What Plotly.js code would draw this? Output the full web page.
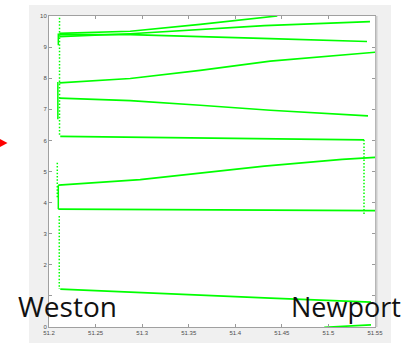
<!DOCTYPE html>
<html>
<head>
<meta charset="utf-8">
<script src="https://cdn.plot.ly/plotly-3.0.1.min.js"></script>
<style>html,body{margin:0;padding:0;background:#fff;}#chart{width:404px;height:343px;}</style>
</head>
<body>
<div id="chart"></div>
<script>
// ---- data ----
const xTicks = [51.2, 51.25, 51.3, 51.35, 51.4, 51.45, 51.5, 51.55];
const xTickText = ['51.2', '51.25', '51.3', '51.35', '51.4', '51.45', '51.5', '51.55'];
const yTicks = [0, 1, 2, 3, 4, 5, 6, 7, 8, 9, 10];
// the "1" label is hidden behind the "Weston" caption in the reference
const yTickText = ['0', '', '2', '3', '4', '5', '6', '7', '8', '9', '10'];

// solid tracks
const trackAx = [51.2110, 51.2872, 51.3623, 51.4376, 51.4451];
const trackAy = [9.44, 9.51, 9.73, 9.96, 10.0];
const trackBx = [51.2110, 51.2872, 51.4312, 51.5446];
const trackBy = [9.34, 9.43, 9.69, 9.82];
const trackCx = [51.2110, 51.2872, 51.4376, 51.5414];
const trackCy = [9.40, 9.40, 9.27, 9.18];
const trackDx = [51.2110, 51.2872, 51.3623, 51.4376, 51.5520];
const trackDy = [7.85, 7.99, 8.25, 8.55, 8.84];
const trackEx = [51.2110, 51.2872, 51.3623, 51.4376, 51.5425];
const trackEy = [7.36, 7.28, 7.13, 6.97, 6.79];
const trackFx = [51.2121, 51.3623, 51.5382];
const trackFy = [6.13, 6.09, 6.02];
const trackGx = [51.2100, 51.2979, 51.4312, 51.5147, 51.5520];
const trackGy = [4.56, 4.74, 5.17, 5.39, 5.46];
const trackHx = [51.2100, 51.3623, 51.5520];
const trackHy = [3.79, 3.77, 3.74];
const trackIx = [51.2121, 51.2872, 51.4376, 51.5457];
const trackIy = [1.22, 1.12, 0.93, 0.80];
const trackJx = [51.4955, 51.5457];
const trackJy = [-0.01, 0.07];

// solid vertical joins at the Weston side
const joinSolidX = [[51.2100, 51.2100], [51.2095, 51.2095], [51.2100, 51.2100]];
const joinSolidY = [[9.44, 9.06], [7.88, 6.68], [4.56, 3.79]];

// dotted vertical joins
const joinDotX = [[51.2113, 51.2113], [51.2089, 51.2089], [51.2110, 51.2110], [51.5382, 51.5382]];
const joinDotY = [[10.05, 6.13], [5.28, 4.14], [3.57, 1.22], [6.02, 3.63]];

const placeLabels = ['Weston', 'Newport'];

// ---- traces ----
const green = '#00ff00';
const traces = [];
const solidTracks = [
  [trackAx, trackAy], [trackBx, trackBy], [trackCx, trackCy], [trackDx, trackDy],
  [trackEx, trackEy], [trackFx, trackFy], [trackGx, trackGy], [trackHx, trackHy],
  [trackIx, trackIy], [trackJx, trackJy]
];
solidTracks.forEach(([x, y]) => traces.push({
  x: x, y: y, type: 'scatter', mode: 'lines', line: {color: green, width: 1.7}, hoverinfo: 'skip'
}));
joinSolidX.forEach((x, i) => traces.push({
  x: x, y: joinSolidY[i], type: 'scatter', mode: 'lines', line: {color: green, width: 1.5}, hoverinfo: 'skip'
}));
joinDotX.forEach((x, i) => traces.push({
  x: x, y: joinDotY[i], type: 'scatter', mode: 'lines', line: {color: green, width: 1.5, dash: '1.5px,1.8px'}, hoverinfo: 'skip'
}));

// helpers to convert figure pixels to paper coords
const L = 49, R = 29, T = 16, B = 16, W = 404, H = 343;
const pw = W - L - R, ph = H - T - B;
const px = v => (v - L) / pw;
const py = v => (H - B - v) / ph;

const layout = {
  width: W, height: H,
  margin: {l: L, r: R, t: T, b: B, pad: 0},
  paper_bgcolor: '#f0f0f0',
  plot_bgcolor: '#ffffff',
  showlegend: false,
  font: {family: 'Liberation Sans, Arial, sans-serif', size: 6, color: '#4d4d4d'},
  xaxis: {
    range: [51.2, 51.55], tickvals: xTicks, ticktext: xTickText,
    ticks: 'inside', ticklen: 3, tickwidth: 1, tickcolor: '#9a9a9a',
    showline: true, linecolor: '#a0a0a0', linewidth: 1, mirror: 'ticks',
    showgrid: false, zeroline: false, tickfont: {size: 6, color: '#4d4d4d'}
  },
  yaxis: {
    range: [0, 10], tickvals: yTicks, ticktext: yTickText,
    ticks: 'inside', ticklen: 3, tickwidth: 1, tickcolor: '#9a9a9a',
    showline: true, linecolor: '#a0a0a0', linewidth: 1, mirror: 'ticks',
    showgrid: false, zeroline: false, tickfont: {size: 6, color: '#4d4d4d'}
  },
  shapes: [
    // white surroundings outside the grey figure panel
    {type: 'rect', xref: 'paper', yref: 'paper', x0: px(0), x1: px(29), y0: py(H), y1: py(0), fillcolor: '#ffffff', line: {width: 0}, layer: 'below'},
    {type: 'rect', xref: 'paper', yref: 'paper', x0: px(391), x1: px(W), y0: py(H), y1: py(0), fillcolor: '#ffffff', line: {width: 0}, layer: 'below'},
    {type: 'rect', xref: 'paper', yref: 'paper', x0: px(0), x1: px(W), y0: py(5), y1: py(0), fillcolor: '#ffffff', line: {width: 0}, layer: 'below'},
    // thicker light right border of the axes
    {type: 'line', xref: 'paper', yref: 'paper', x0: px(376.5), x1: px(376.5), y0: 0, y1: 1, line: {color: '#cccccc', width: 2}},
    // red arrow head at the left
    {type: 'path', xref: 'paper', yref: 'paper',
     path: 'M ' + px(-1) + ',' + py(138.5) + ' L ' + px(7.5) + ',' + py(143) + ' L ' + px(-1) + ',' + py(147.5) + ' Z',
     fillcolor: '#ff0000', line: {width: 0}}
  ],
  annotations: [
    {text: placeLabels[0], xref: 'paper', yref: 'paper', x: px(67), y: py(306), xanchor: 'center', yanchor: 'middle',
     showarrow: false, font: {family: 'Open Sans, sans-serif', size: 28, color: '#111111'}},
    {text: placeLabels[1], xref: 'paper', yref: 'paper', x: px(345.5), y: py(306), xanchor: 'center', yanchor: 'middle',
     showarrow: false, font: {family: 'Open Sans, sans-serif', size: 27, color: '#111111'}}
  ]
};

Plotly.newPlot('chart', traces, layout, {displayModeBar: false, staticPlot: true});
</script>
</body>
</html>
